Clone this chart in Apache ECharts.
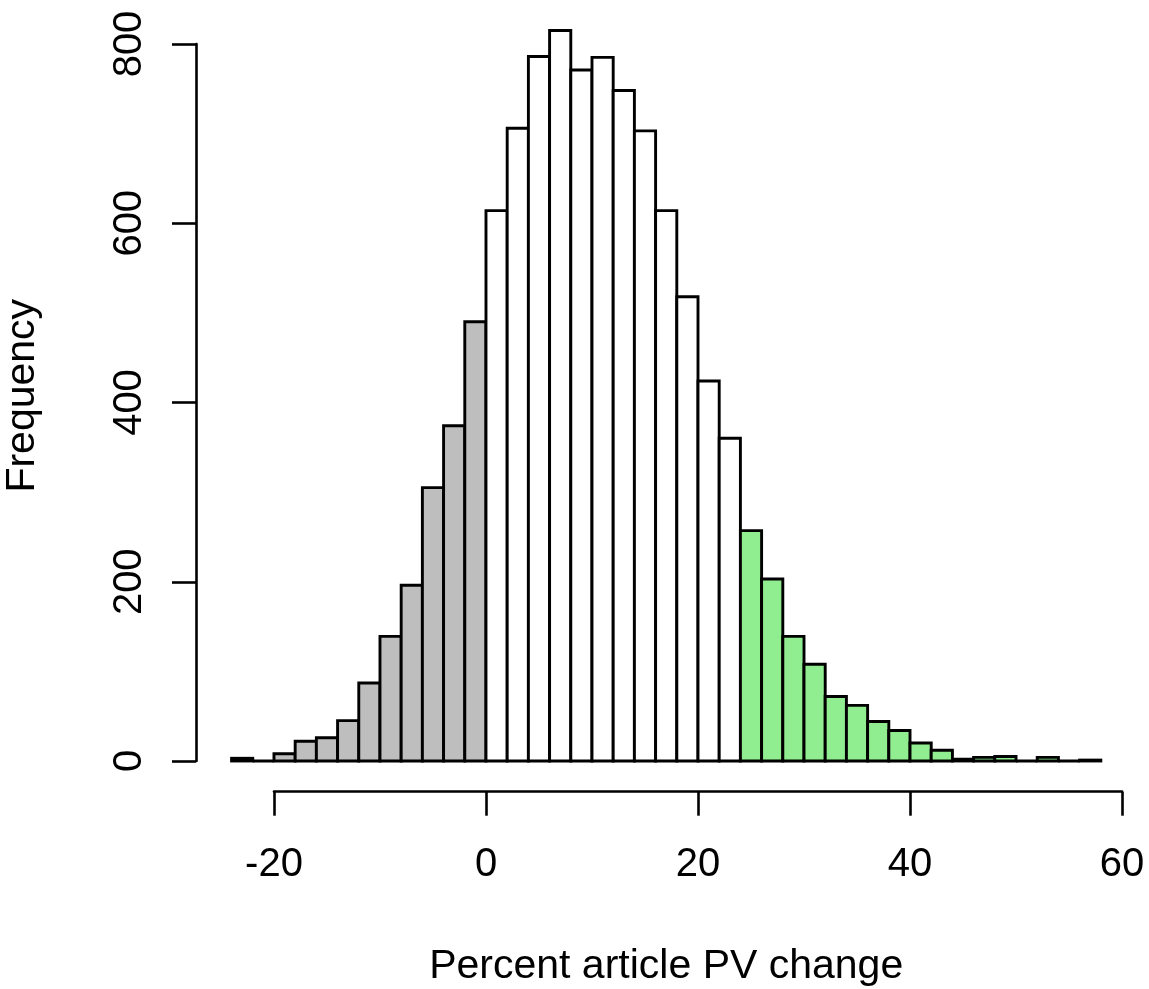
<!DOCTYPE html>
<html>
<head>
<meta charset="utf-8">
<script src="https://cdn.jsdelivr.net/npm/echarts@6/dist/echarts.min.js"></script>
<style>
html,body{margin:0;padding:0;background:#fff;}
#chart{width:1149px;height:989px;}
</style>
</head>
<body>
<div id="chart"></div>
<script>
// Histogram bins (left edges, percent) and frequencies
const binStarts = [-24,-22,-20,-18,-16,-14,-12,-10,-8,-6,-4,-2,0,2,4,6,8,10,12,14,16,18,20,22,24,26,28,30,32,34,36,38,40,42,44,46,48,50,52,54,56];
const binWidth = 2;
const counts = [3,0,8,22,26,45,87,139,196,305,374,490,614,706,786,815,771,785,748,703,614,518,424,360,257,203,139,108,72,62,44,34,20,12,2,4,5,0,4,0,1];
const xTicks = [-20, 0, 20, 40, 60];
const yTicks = [0, 200, 400, 600, 800];
const xTitle = 'Percent article PV change';
const yTitle = 'Frequency';
const lowCut = 0;    // bins below this are grey
const highCut = 24;  // bins at/above this are green

const FONT = '"Liberation Sans", Arial, Helvetica, sans-serif';
const colGrey = '#BEBEBE', colWhite = '#FFFFFF', colGreen = '#90EE90';

const data = binStarts.map((s, i) => [s, s + binWidth, counts[i]]);

const chart = echarts.init(document.getElementById('chart'), null, {renderer: 'canvas'});
chart.setOption({
  animation: false,
  backgroundColor: '#fff',
  grid: [
    {left: 196.8, top: 1.3, width: 938.8, height: 788.9, containLabel: false, outerBoundsMode: 'none'},
    {left: 274, top: 790.7, width: 848, height: 1, containLabel: false, outerBoundsMode: 'none'},
    {left: 196, top: 44, width: 1, height: 717, containLabel: false, outerBoundsMode: 'none'}
  ],
  xAxis: [
    {gridIndex: 0, type: 'value', min: -27.28, max: 61.28,
     axisLine: {show: false}, axisTick: {show: false}, axisLabel: {show: false}, splitLine: {show: false},
     name: xTitle, nameLocation: 'middle', nameGap: 156,
     nameTextStyle: {fontFamily: FONT, fontSize: 41, color: '#000'}},
    {gridIndex: 1, type: 'value', min: xTicks[0], max: xTicks[xTicks.length - 1], interval: 20,
     axisLine: {show: true, lineStyle: {color: '#000', width: 2.6}},
     axisTick: {show: true, inside: false, length: 24, lineStyle: {color: '#000', width: 2.6}},
     axisLabel: {show: true, margin: 53, fontFamily: FONT, fontSize: 40, color: '#000',
       customValues: xTicks},
     splitLine: {show: false}},
    {gridIndex: 2, type: 'value', min: 0, max: 1, show: false}
  ],
  yAxis: [
    {gridIndex: 0, type: 'value', min: -32.6, max: 847.6,
     axisLine: {show: false}, axisTick: {show: false}, axisLabel: {show: false}, splitLine: {show: false},
     name: yTitle, nameLocation: 'middle', nameGap: 154, nameRotate: 90,
     nameTextStyle: {fontFamily: FONT, fontSize: 41, color: '#000'}},
    {gridIndex: 1, type: 'value', min: 0, max: 1, show: false},
    {gridIndex: 2, type: 'value', min: yTicks[0], max: yTicks[yTicks.length - 1], interval: 200,
     axisLine: {show: true, lineStyle: {color: '#000', width: 2.6}},
     axisTick: {show: true, inside: false, length: 24, lineStyle: {color: '#000', width: 2.6}},
     axisLabel: {show: true, rotate: 90, margin: 46, fontFamily: FONT, fontSize: 40, color: '#000'},
     splitLine: {show: false}}
  ],
  series: [{
    type: 'custom',
    xAxisIndex: 0, yAxisIndex: 0,
    clip: false,
    data: data,
    renderItem: function (params, api) {
      const x0 = api.value(0), x1 = api.value(1), c = api.value(2);
      const p0 = api.coord([x0, 0]);
      const p1 = api.coord([x1, c]);
      const fill = x0 < lowCut ? colGrey : (x0 >= highCut ? colGreen : colWhite);
      return {
        type: 'rect',
        shape: {x: p0[0], y: p1[1], width: p1[0] - p0[0], height: p0[1] - p1[1]},
        style: {fill: fill, stroke: '#000', lineWidth: 2.9}
      };
    }
  }]
});
</script>
</body>
</html>
